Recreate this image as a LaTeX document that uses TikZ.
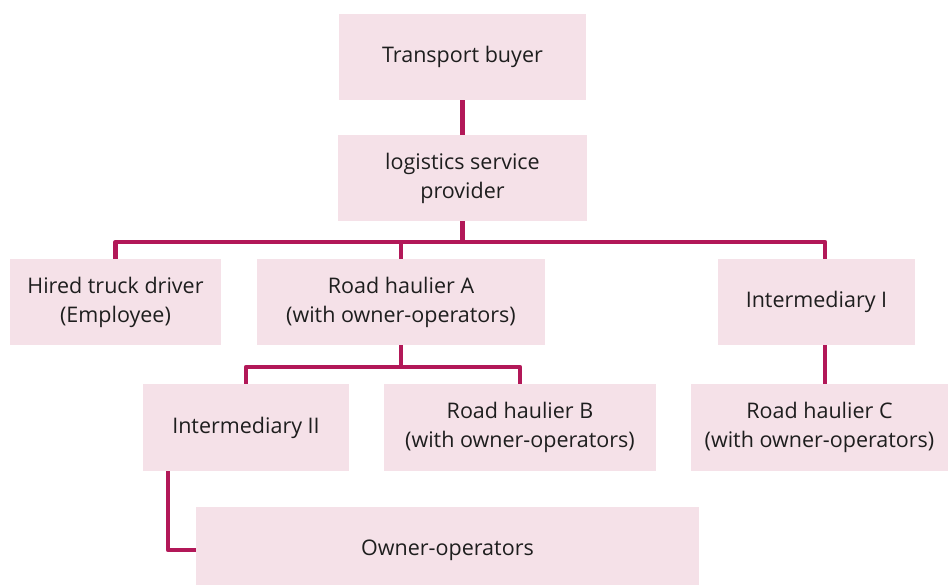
\documentclass[tikz,border=0pt]{standalone}
\usepackage{fontspec}
\setmainfont{Open Sans}
\usetikzlibrary{positioning}

\definecolor{boxpink}{RGB}{245,225,232}
\definecolor{linkred}{RGB}{178,24,88}
\definecolor{textgray}{RGB}{30,30,30}

\begin{document}
\begin{tikzpicture}[x=1pt,y=-1pt]
\tikzset{ box/.style={fill=boxpink, inner sep=0pt, minimum height=86, align=center, text=textgray, font=\fontsize{21.5}{29}\selectfont},
 link/.style={draw=linkred, line width=4.5pt, line join=round}}
\useasboundingbox (0,0) rectangle (948,584);

\node[box, minimum width=247] (buyer) at (462.5,57) {Transport buyer};
\node[box, minimum width=249] (lsp) at (462.5,178) {logistics service\\provider};

\node[box, minimum width=211] (driver) at (115.5,302) {Hired truck driver\\(Employee)};
\node[box, minimum width=288] (haulA) at (401,302) {Road haulier A\\(with owner-operators)};
\node[box, minimum width=197] (interI) at (816.5,302) {Intermediary I};

\node[box, minimum width=206, minimum height=87] (interII) at (246,427.5) {Intermediary II};
\node[box, minimum width=272, minimum height=87] (haulB) at (520,427.5) {Road haulier B\\(with owner-operators)};
\node[box, minimum width=257, minimum height=87] (haulC) at (819.5,427.5) {Road haulier C\\(with owner-operators)};

\node[box, minimum width=503, minimum height=86] (owners) at (447.5,550) {Owner-operators};

\coordinate (busA) at (462.5,242);
\coordinate (busB) at (401,367);
\coordinate (corner) at (168,550);

\draw[link] (buyer.south) -- (buyer.south |- lsp.north);
\draw[link] (lsp.south) -- (busA);
\draw[link] (driver.north) |- (busA) -| ([xshift=8.5]interI.north);
\draw[link] (haulA.north) -- (haulA.north |- busA);
\draw[link] ([xshift=8.5]interI.south) -- ([xshift=8.5]interI.south |- haulC.north);

\draw[link] (haulA.south) -- (busB);
\draw[link] (interII.north) |- (busB) -| (haulB.north);
\draw[link] (interII.south -| corner) -- (corner) -- (owners.west |- corner);
\end{tikzpicture}
\end{document}
